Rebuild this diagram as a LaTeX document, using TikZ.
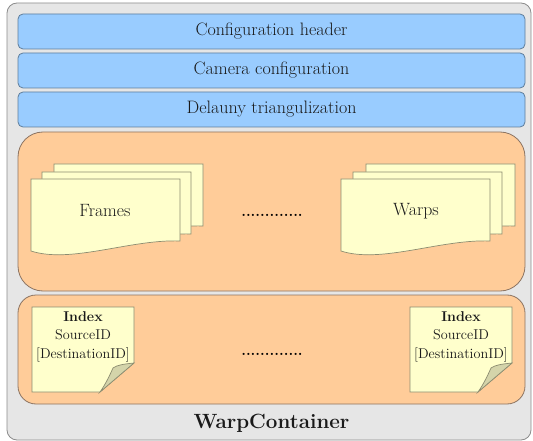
\documentclass[tikz,border=0pt]{standalone}
\usepackage{fontspec}
\definecolor{outerfill}{HTML}{E6E6E6}
\definecolor{outerline}{HTML}{8C8C8C}
\definecolor{barfill}{HTML}{99CCFF}
\definecolor{barline}{HTML}{5F7E9C}
\definecolor{panelfill}{HTML}{FFCC99}
\definecolor{panelline}{HTML}{8C7462}
\definecolor{docfill}{HTML}{FFFFCC}
\definecolor{docline}{HTML}{8C8C70}
\definecolor{foldfill}{HTML}{D4D4AA}
\definecolor{textdark}{HTML}{1A1A1A}
\begin{document}
\begin{tikzpicture}[x=1pt,y=-1pt,
  outerbox/.style={draw=outerline,fill=outerfill,line width=0.8pt,rounded corners=10pt},
  bar/.style={draw=barline,fill=barfill,line width=0.8pt,rounded corners=5pt,
    minimum width=507pt,minimum height=35pt,inner sep=0pt,
    font=\fontsize{18}{21}\selectfont,text=textdark},
  panel/.style={draw=panelline,fill=panelfill,line width=0.8pt},
  docstyle/.style={draw=docline,fill=docfill,line width=0.7pt},
  foldstyle/.style={draw=docline,fill=foldfill,line width=0.7pt},
  label/.style={font=\fontsize{17.8}{21}\selectfont,text=textdark,inner sep=0pt},
  dotrow/.style={font=\fontsize{15.1}{19}\selectfont\bfseries,text=black,inner sep=0pt},
  notetext/.style={font=\fontsize{14.2}{18.5}\selectfont,text=textdark,align=center,inner sep=0pt},
  title/.style={font=\fontsize{20.6}{24}\selectfont\bfseries,text=textdark,inner sep=0pt,anchor=base},
  docsheet/.pic={\draw[docstyle] (0,0) -- (149,0) -- (149,62)
      .. controls (100,60) and (40,85) .. (0,72) -- cycle;},
  notesheet/.pic={\draw[docstyle] (0,0) -- (102,0) -- (102,56) -- (68,85) -- (0,85) -- cycle;
      \draw[foldstyle] (102,56) .. controls (92,57) and (85,58) .. (81,61)
      .. controls (77,70) and (73,78) .. (68,85) -- cycle;}
]
\useasboundingbox (0,0) rectangle (533,441);

\draw[outerbox] (7,3) rectangle (531,440);

\node[bar] (hdr) at (271.5,31.5) {Configuration header};
\node[bar] (cam) at (271.5,70.5) {Camera configuration};
\node[bar] (del) at (271.5,109.5) {Delauny triangulization};

\draw[panel,rounded corners=25pt] (18,132) rectangle (525,291);
\draw[panel,rounded corners=18pt] (18,295) rectangle (525,404);

% Frames stack
\pic at (54,164) {docsheet};
\pic at (42,172) {docsheet};
\pic at (31,179) {docsheet};
\node[label] (frames) at (105,211) {Frames};

% Warps stack
\pic at (366,164) {docsheet};
\pic at (353,172) {docsheet};
\pic at (341,179) {docsheet};
\node[label] (warps) at (416,211) {Warps};

\node[dotrow] (dots1) at (272,215) {.............};

% Index notes
\pic at (32,307) {notesheet};
\node[notetext,anchor=north] (idx1) at (83,311) {\textbf{Index}\\SourceID\\{[}DestinationID{]}};
\pic at (410,307) {notesheet};
\node[notetext,anchor=north] (idx2) at (461,311) {\textbf{Index}\\SourceID\\{[}DestinationID{]}};

\node[dotrow] (dots2) at (272,354) {.............};

\node[title] (wc) at (271.5,428) {WarpContainer};
\end{tikzpicture}
\end{document}
